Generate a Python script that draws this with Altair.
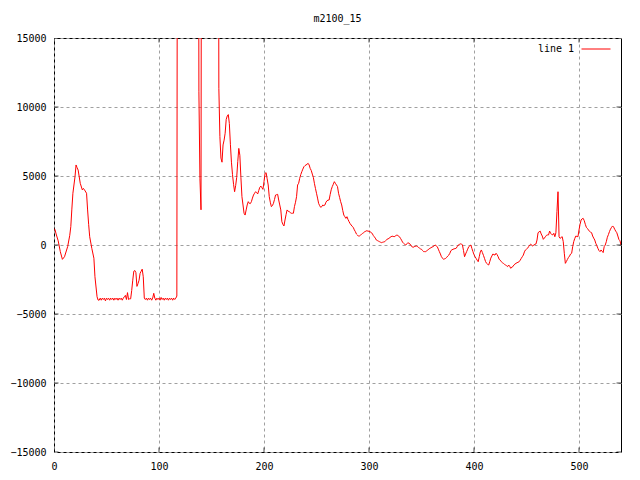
import altair as alt
import pandas as pd

# ---- data ----
seg_a_x = [0, 1, 2, 4, 6, 8, 10, 13, 15, 16, 17, 18, 20, 21, 22, 23, 25, 27, 28, 29,
           31, 32, 33, 34, 36, 38, 39, 41, 42]
seg_a_y = [1200, 1100, 800, 300, -480, -1040, -850, -120, 700, 1330, 2600, 3750, 4950,
           5800, 5600, 5430, 4470, 3990, 4100, 4000, 3750, 2540, 1500, 600, -240, -960,
           -2300, -3750, -3990]

# x = 43 .. 117 (one value per step)
seg_b_start = 43
seg_b_y = [-4000, -3850, -4000, -3850, -3950, -3850, -4050, -3850, -3950, -3850,
           -4000, -3850, -3950, -3850, -4000, -3850, -3950, -3850, -4000, -3850,
           -3950, -3850, -4000, -3850,
           -3750, -3650, -3950, -3450, -3950, -3900, -3900, -3300, -2550, -1900,
           -1850, -2000, -3000, -2800, -2550, -2050, -1900, -1750, -2300, -3850,
           -3950, -3850, -4000, -3850, -3950, -3850, -4000, -3850, -3500, -3850,
           -4000, -3850, -3950, -3850, -4000, -3800, -3950, -3850, -4000, -3850,
           -3950, -3850, -4000, -3850, -3950, -3850, -4000, -3850, -3950,
           -3850, -3700]

# spike region (values far above the axis range)
seg_c_x = [118, 137, 138, 139, 140, 141, 156]
seg_c_y = [60000, 60000, 11100, 4800, 2550, 60000, 60000]

# x = 157 .. 540
seg_d_start = 157
seg_d_y = [11350, 7850, 6300,
           6000, 7250, 7600, 8100, 9100, 9350, 9450, 8800, 7300, 6000,
           5100, 4400, 3860, 4300, 4900, 6040, 7000, 6500, 4900, 3500,
           2900, 2300, 2170, 2540, 2900, 3140, 3020, 3000, 3140, 3400,
           3620, 3750, 3860, 3800, 3700, 3950, 4180, 4270, 4150, 4030,
           4600, 5190, 5240, 4800, 4350, 3500, 3100, 2780, 2850, 3020,
           3300, 3620, 3650, 3670, 3260, 2900, 2540, 1690, 1500, 1380,
           1810, 2200, 2540, 2450, 2420, 2350, 2300, 2300, 2300, 2780,
           3100, 3500, 4350, 4470, 4830, 5100, 5310, 5500, 5670, 5750,
           5800, 5850, 5920, 5800, 5550, 5400, 5140, 4900, 4470, 4100,
           3750, 3400, 3020, 2850, 2730, 2780, 2900, 2850, 2900, 3100,
           3210, 3250, 3260, 3650, 4000, 4230, 4400, 4590, 4470, 4350,
           4230, 3750, 3450, 3140, 2900, 2500, 2170, 2050, 1930, 2050,
           1850, 1690, 1550, 1450, 1350, 1280, 1100, 970, 800, 725,
           640, 660, 725, 780, 850, 900, 970, 1000, 1040, 1000,
           1000, 970, 900, 850, 700, 600, 500, 360, 320, 280,
           240, 200, 170, 200, 220, 240, 320, 410, 440, 480,
           550, 600, 640, 620, 600, 650, 700, 725, 640, 600,
           480, 350, 200, 120, 50, 0, 80, 170, 120, 80,
           -50, -120, -170, -120, -100, -70, -100, -170, -220, -280,
           -310, -400, -480, -480, -480, -420, -360, -300, -240, -200,
           -150, -120, -60, 0, -60, -120, -300, -480, -650, -850,
           -950, -1040, -1000, -970, -900, -800, -730, -600, -410, -350,
           -310, -280, -260, -240, -120, 0, 40, 80, 80, 0,
           -400, -850, -650, -480, -300, -120, -60, 0, -250, -480,
           -700, -850, -970, -1100, -1210, -850, -500, -360, -550, -750,
           -970, -1200, -1330, -1400, -1450, -1210, -950, -800, -650, -700,
           -730, -600, -700, -850, -1040, -1100, -1210, -1280, -1330, -1400,
           -1450, -1500, -1570, -1450, -1550, -1690, -1600, -1570, -1450, -1380,
           -1330, -1280, -1250, -1210, -1100, -970, -850, -730, -500, -360,
           -300, -240, -120, 0, 70, -30, -70, 0, 50, 70,
           360, 890, 950, 1010, 800, 650, 410, 500, 600, 700,
           730, 730, 1010, 850, 760, 730, 850, 600, 890, 2420,
           3860, 600, 480, 550, 600, 240, -600, -1330, -1200, -1040,
           -900, -800, -650, -600, -120, 250, 480, 650, 620, 600,
           1090, 1500, 1810, 1900, 1930, 1760, 1500, 1280, 1200, 1090,
           1000, 920, 890, 650, 500, 360, 120, -50, -240, -400,
           -480, -360, -450, -550, -120, 0, 240, 560, 750, 970,
           1150, 1280, 1380, 1300, 1140, 1000, 890, 650, 400, 310,
           0]

x_ticks = [0, 100, 200, 300, 400, 500]
y_ticks = [-15000, -10000, -5000, 0, 5000, 10000, 15000]
series_name = "line 1"
title_text = "m2100_15"

# ---- assemble ----
xs = (seg_a_x
      + list(range(seg_b_start, seg_b_start + len(seg_b_y)))
      + seg_c_x
      + list(range(seg_d_start, seg_d_start + len(seg_d_y))))
ys = seg_a_y + seg_b_y + seg_c_y + seg_d_y
df = pd.DataFrame({"x": xs, "y": ys, "series": series_name})

FONT = "DejaVu Sans Mono"
W, H = 567, 414

xscale = alt.Scale(domain=[0, 540], nice=False, zero=False)
yscale = alt.Scale(domain=[-15000, 15000], nice=False)

line = alt.Chart(df).mark_line(strokeWidth=1, clip=True).encode(
    x=alt.X("x:Q", scale=xscale,
            axis=alt.Axis(values=x_ticks, title=None, grid=True, ticks=False,
                          domain=False, labelPadding=9, format="d",
                          labelFlush=False)),
    y=alt.Y("y:Q", scale=yscale,
            axis=alt.Axis(values=y_ticks, title=None, grid=True, ticks=False,
                          domain=False, labelPadding=8, format="d")),
    color=alt.Color("series:N", scale=alt.Scale(range=["#ff0000"]),
                    legend=alt.Legend(title=None, orient="none", legendX=527,
                                      legendY=-4, symbolType="stroke",
                                      symbolSize=841, symbolStrokeWidth=1,
                                      labelAlign="right",
                                      labelOffset=alt.ExprRef(expr="-37"),
                                      labelFont=FONT, labelFontSize=10,
                                      labelColor="black", padding=0)),
    order="x:Q",
)

# inward mirror tick marks on the border
tdf_x = pd.DataFrame({"t": x_ticks})
tdf_y = pd.DataFrame({"t": y_ticks})
TS = 9
tick_top = alt.Chart(tdf_x).mark_tick(color="black", size=TS, thickness=1,
                                      clip=True, orient="vertical").encode(
    x=alt.X("t:Q", scale=xscale), y=alt.value(0))
tick_bot = alt.Chart(tdf_x).mark_tick(color="black", size=TS, thickness=1,
                                      clip=True, orient="vertical").encode(
    x=alt.X("t:Q", scale=xscale), y=alt.value(H))
tick_right = alt.Chart(tdf_y).mark_tick(color="black", size=TS, thickness=1,
                                        clip=True, orient="horizontal").encode(
    y=alt.Y("t:Q", scale=yscale), x=alt.value(W))
tick_left = alt.Chart(tdf_y).mark_tick(color="black", size=TS, thickness=1,
                                       clip=True, orient="horizontal").encode(
    y=alt.Y("t:Q", scale=yscale), x=alt.value(0))

chart = alt.layer(line, tick_top, tick_bot, tick_left, tick_right).properties(
    width=W, height=H,
    title=alt.TitleParams(title_text, font=FONT, fontSize=10, fontWeight="normal",
                          color="black", anchor="middle", offset=9),
    autosize=alt.AutoSizeParams(type="none"),
    padding={"left": 46, "top": 30, "right": 10, "bottom": 20},
    background="white",
).configure_view(stroke="black", strokeWidth=1).configure_axis(
    labelFont=FONT, labelFontSize=10, labelColor="black",
    gridColor="#a0a0a0", gridDash=[3, 3], gridWidth=1, gridOpacity=1,
)

chart.save("out.html", embed_options={"renderer": "svg", "actions": False})
